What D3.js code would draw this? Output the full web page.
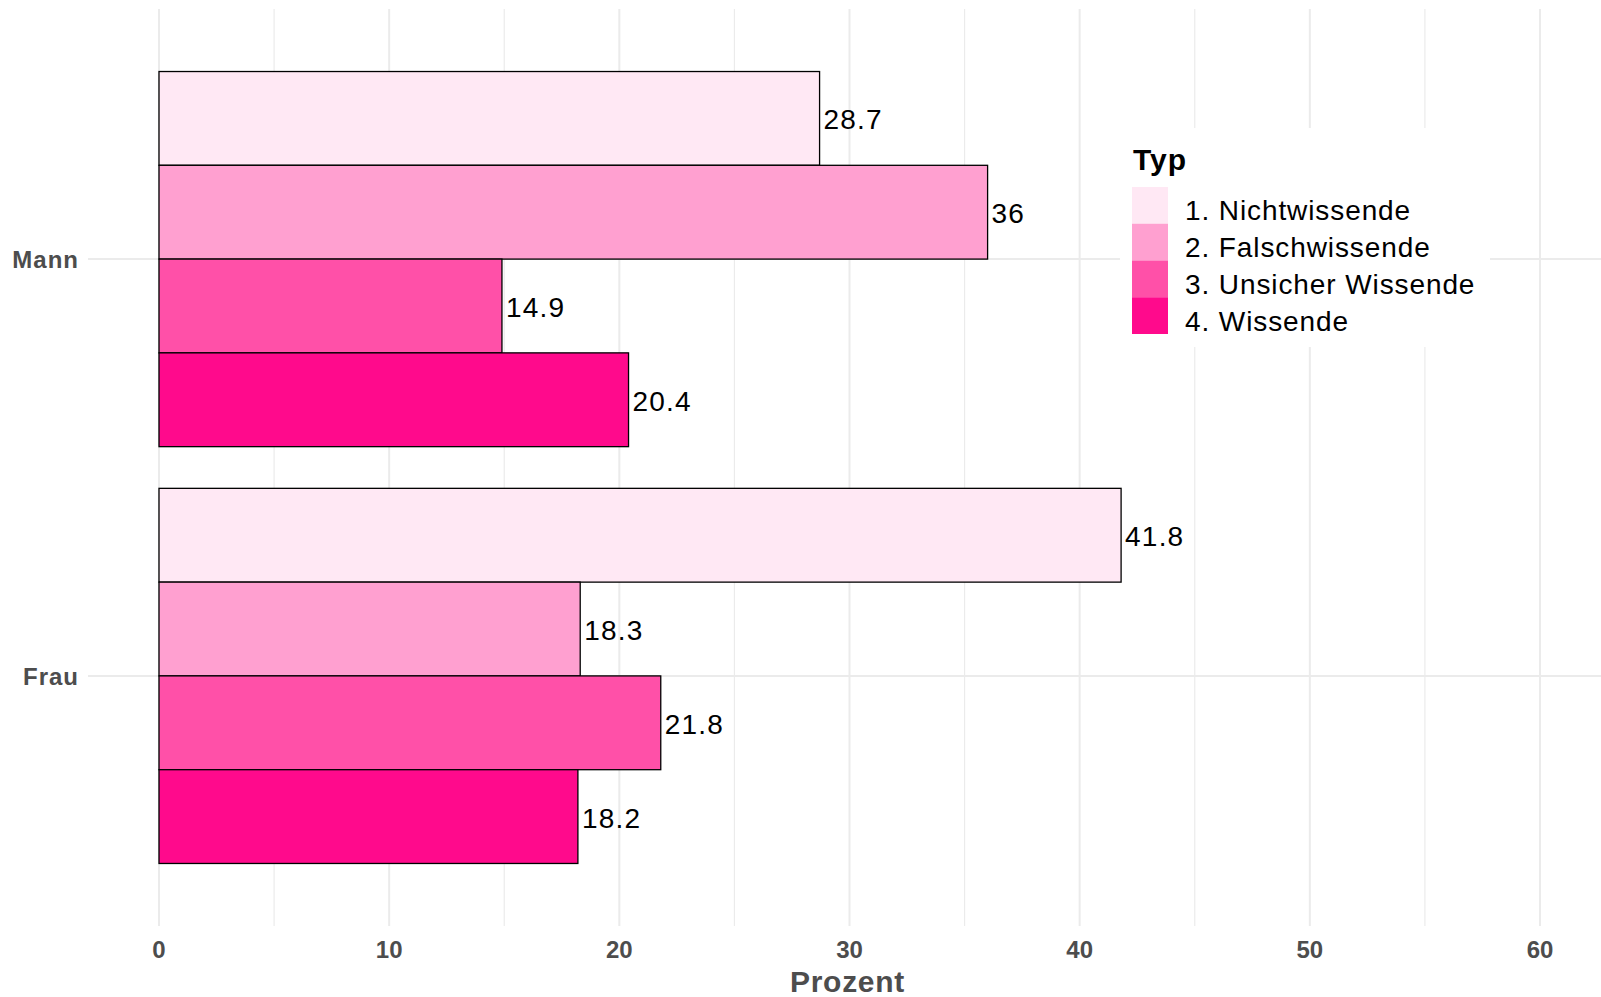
<!DOCTYPE html>
<html><head><meta charset="utf-8">
<script src="https://cdn.jsdelivr.net/npm/d3@7"></script>
<style>body{margin:0;background:#fff}svg{display:block}</style>
</head><body><svg id="c" width="1601" height="997"></svg>
<script>
const categories = ["Mann", "Frau"];
const types = ["1. Nichtwissende", "2. Falschwissende", "3. Unsicher Wissende", "4. Wissende"];
const valuesMann = [28.7, 36, 14.9, 20.4];
const valuesFrau = [41.8, 18.3, 21.8, 18.2];
const colors = ["#FFE8F4", "#FFA0D0", "#FF50A8", "#FF0A8C"];
const xTicks = [0, 10, 20, 30, 40, 50, 60];
const xMinor = [5, 15, 25, 35, 45, 55];

const data = [];
categories.forEach((c, ci) => {
  const vals = ci === 0 ? valuesMann : valuesFrau;
  types.forEach((t, ti) => data.push({cat: c, type: t, value: vals[ti], ti}));
});

const svg = d3.select("#c");
const font = "'Liberation Sans', Arial, sans-serif";
const panel = {left: 88, right: 1601, top: 9, bottom: 926};

const x = d3.scaleLinear().domain([0, 60]).range([159, 1540]);
const step = (panel.bottom - panel.top) / 2.2;
const yc = c => panel.top + step * (0.6 + categories.indexOf(c));
const barH = step * 0.9;
const yInner = d3.scaleBand().domain(types).range([-barH / 2, barH / 2]);

const g = svg.append("g");
g.selectAll(".minor").data(xMinor).join("line")
  .attr("x1", d => x(d)).attr("x2", d => x(d))
  .attr("y1", panel.top).attr("y2", panel.bottom)
  .attr("stroke", "#ebebeb").attr("stroke-width", 1.2);
g.selectAll(".major").data(xTicks).join("line")
  .attr("x1", d => x(d)).attr("x2", d => x(d))
  .attr("y1", panel.top).attr("y2", panel.bottom)
  .attr("stroke", "#ebebeb").attr("stroke-width", 2);
g.selectAll(".hmaj").data(categories).join("line")
  .attr("x1", panel.left).attr("x2", panel.right)
  .attr("y1", d => yc(d)).attr("y2", d => yc(d))
  .attr("stroke", "#ebebeb").attr("stroke-width", 2);

g.selectAll("rect.bar").data(data).join("rect")
  .attr("x", x(0))
  .attr("y", d => yc(d.cat) + yInner(d.type))
  .attr("width", d => x(d.value) - x(0))
  .attr("height", yInner.bandwidth())
  .attr("fill", d => colors[d.ti])
  .attr("stroke", "#000").attr("stroke-width", 1.3);

g.selectAll("text.val").data(data).join("text")
  .attr("x", d => x(d.value) + 4)
  .attr("y", d => yc(d.cat) + yInner(d.type) + yInner.bandwidth() / 2 + 1)
  .attr("dy", "0.36em")
  .attr("font-family", font).attr("font-size", 28).attr("letter-spacing", 1.2).attr("fill", "#000")
  .text(d => d.value);

g.selectAll("text.xt").data(xTicks).join("text")
  .attr("x", d => x(d)).attr("y", 949).attr("dy", "0.36em")
  .attr("text-anchor", "middle")
  .attr("font-family", font).attr("font-size", 24).attr("font-weight", "bold").attr("fill", "#4d4d4d")
  .text(d => d);
svg.append("text").attr("x", (panel.left + panel.right) / 2 + 3).attr("y", 992)
  .attr("text-anchor", "middle")
  .attr("font-family", font).attr("font-size", 30).attr("font-weight", "bold").attr("letter-spacing", 0.7).attr("fill", "#4d4d4d")
  .text("Prozent");

g.selectAll("text.yt").data(categories).join("text")
  .attr("x", 79).attr("y", d => yc(d)).attr("dy", "0.36em")
  .attr("text-anchor", "end")
  .attr("font-family", font).attr("font-size", 24).attr("font-weight", "bold").attr("letter-spacing", 1).attr("fill", "#4d4d4d")
  .text(d => d);

const lg = svg.append("g");
lg.append("rect").attr("x", 1120).attr("y", 128).attr("width", 370).attr("height", 219).attr("fill", "#fff");
lg.append("text").attr("x", 1133).attr("y", 170)
  .attr("font-family", font).attr("font-size", 30).attr("font-weight", "bold").attr("letter-spacing", 1).attr("fill", "#000")
  .text("Typ");
const keyH = 36.75;
lg.selectAll("rect.key").data(types).join("rect")
  .attr("x", 1132).attr("y", (d, i) => 187 + i * keyH)
  .attr("width", 36).attr("height", keyH)
  .attr("fill", (d, i) => colors[i]);
lg.selectAll("text.lab").data(types).join("text")
  .attr("x", 1185).attr("y", (d, i) => 187 + i * keyH + keyH / 2 + 5)
  .attr("dy", "0.36em")
  .attr("font-family", font).attr("font-size", 28).attr("letter-spacing", 0.9).attr("fill", "#000")
  .text(d => d);
</script></body></html>
